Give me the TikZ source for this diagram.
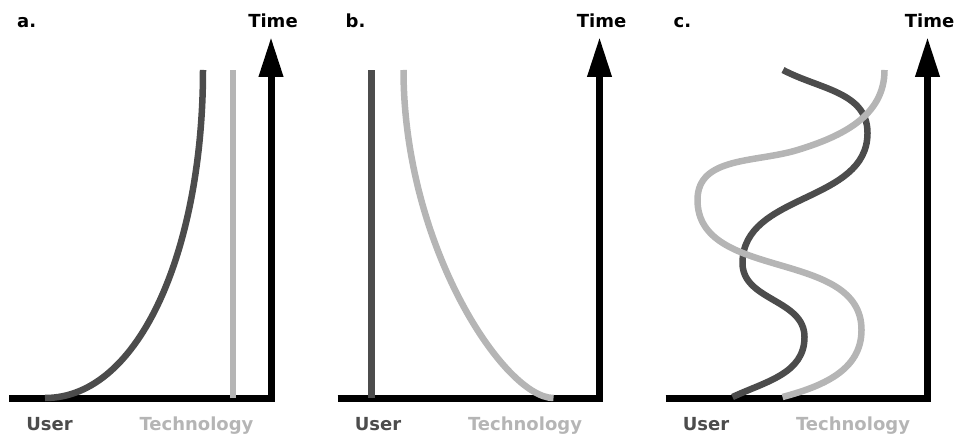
\documentclass[tikz,border=0pt]{standalone}
\usepackage{fontspec}
\setmainfont{DejaVu Sans}
\usetikzlibrary{arrows.meta}

\definecolor{userclr}{gray}{0.30}
\definecolor{techclr}{gray}{0.71}

\begin{document}
\begin{tikzpicture}
    [
        x=1pt, y=1pt,
        axis/.style={line width=7pt, line join=miter, -{Triangle[length=40pt, width=23pt]}},
        usercurve/.style={draw=userclr, line width=6.5pt},
        techcurve/.style={draw=techclr, line width=6.5pt},
        lbl/.style={font=\fontsize{18}{21}\selectfont\bfseries, inner sep=0pt, anchor=base}
    ]
        \useasboundingbox (0,0) rectangle (957,434);
        % =========================================================================
        % AXES AND LABELS
        % =========================================================================
        \foreach \pn/\dx in {a/271, b/599.5, c/927.5} {
            \coordinate (o-\pn) at (\dx,36);
            \coordinate (xs-\pn) at (\dx-262,36);
            \coordinate (tip-\pn) at (\dx,397);
            \node [lbl, anchor=base west] (panel-\pn) at (\dx-254,406) {\pn.};
            \node [lbl] (time-\pn) at (\dx+2,406) {Time};
            \node [lbl, text=userclr] (user-\pn) at (\dx-221.5,4) {User};
            \node [lbl, text=techclr] (tech-\pn) at (\dx-74.5,4) {Technology};
            \draw [axis] (xs-\pn) -- (o-\pn) -- (tip-\pn);
        }

        % =========================================================================
        % CURVES
        % =========================================================================
        % --- a. ---
        \begin{scope}[shift={(o-a)}]
            \draw [usercurve] (-226,0) .. controls (-130,0) and (-68,152) .. (-68,328);
            \draw [techcurve] (-38,0) -- (-38,328);
        \end{scope}
        % --- b. ---
        \begin{scope}[shift={(o-b)}]
            \draw [usercurve] (-228,0) -- (-228,328);
            \draw [techcurve] (-196,328) .. controls (-196,152) and (-95,0) .. (-46,0);
        \end{scope}
        % --- c. ---
        \begin{scope}[shift={(o-c)}]
            \draw [usercurve] (-144.5,328) to[out=-28, in=90] (-60,265)
                to[out=-90, in=90] (-185,135) to[out=-90, in=90] (-123,61)
                to[out=-90, in=25] (-195,1);
            \draw [techcurve] (-43,328) to[out=-90, in=17] (-130,248)
                to[out=197, in=90] (-230,198) to[out=-90, in=90] (-66,68)
                to[out=-90, in=15] (-145,1);
        \end{scope}

    \end{tikzpicture}
\end{document}
